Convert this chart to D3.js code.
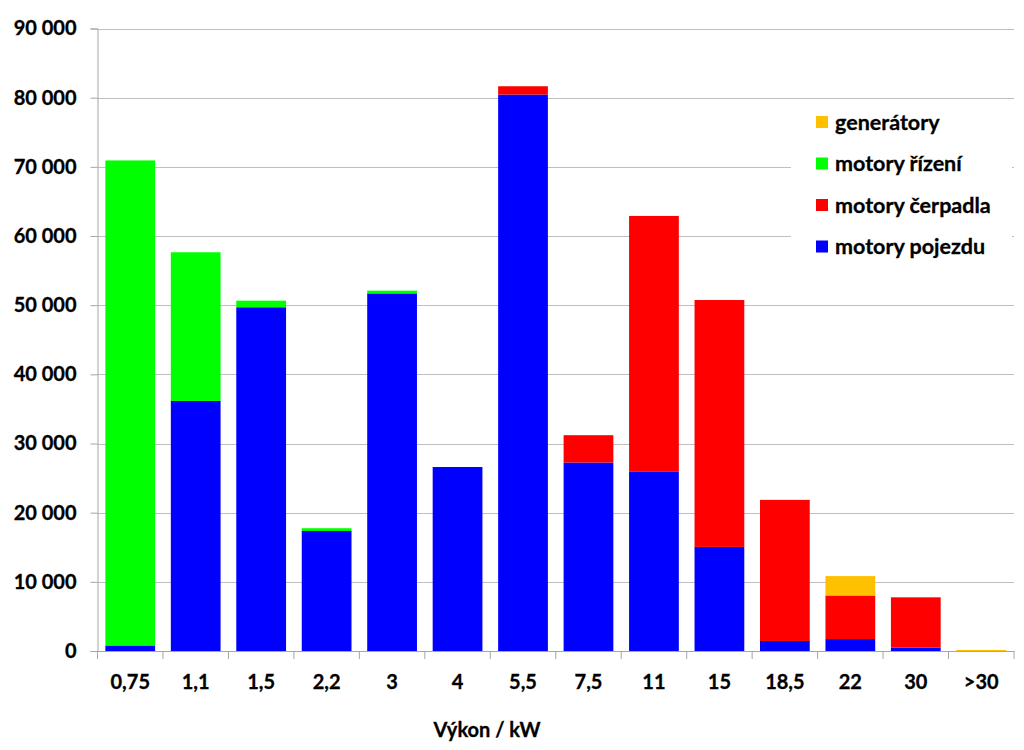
<!DOCTYPE html>
<html>
<head>
<meta charset="utf-8">
<script src="https://cdn.jsdelivr.net/npm/d3@7/dist/d3.min.js"></script>
<style>
body { margin:0; background:#fff; }
text { font-family: Lato, "Open Sans", sans-serif; font-weight:bold; fill:#000; stroke:#000; stroke-width:0.3px; }
</style>
</head>
<body>
<div id="chart"></div>
<script>
// vykon motoru, kategorie na ose x
var categories=["0,75","1,1","1,5","2,2","3","4","5,5","7,5","11","15","18,5","22","30",">30"];

// hodnoty jednotlivych serii (odhad z obrazku)
var pojezd   =[800,36150,49700,17350,51700,26600,80450,27250,25900,15050,1450,1730,480,0];
var cerpadla =[0,0,0,0,0,0,1200,3950,37000,35700,20400,6300,7280,0];
var rizeni   =[70130,21500,950,400,400,0,0,0,0,0,0,0,0,0];
var generatory=[0,0,0,0,0,0,0,0,0,0,0,2800,0,150];

var seriesNames=["motory pojezdu","motory čerpadla","motory řízení","generátory"];
var colors=["#0000ff","#ff0000","#00ff00","#ffc000"];
var yTicks=[0,10000,20000,30000,40000,50000,60000,70000,80000,90000];

function draw() {
    var width=1024, height=750;
    var left=97.5, right=1014, top=28.5, bottom=651;

    var svg=d3.select("#chart").append("svg")
        .attr("width",width)
        .attr("height",height);

    var rows=categories.map(function(c,i) {
        return {cat:c, "motory pojezdu":pojezd[i], "motory čerpadla":cerpadla[i],
                "motory řízení":rizeni[i], "generátory":generatory[i]};
        });
    var stack=d3.stack().keys(seriesNames)(rows);

    var x=d3.scaleBand().domain(categories).range([left,right]).paddingInner(0.24).paddingOuter(0.12);
    var y=d3.scaleLinear().domain([0,90000]).range([bottom,top]);

    var fmt=function(d) { return d3.format(",")(d).replace(/,/g," "); };

    // mrizka
    svg.append("g").selectAll("line")
        .data(yTicks.slice(1))
        .enter().append("line")
        .attr("x1",left).attr("x2",right)
        .attr("y1",function(d) { return Math.round(y(d))+0.5; })
        .attr("y2",function(d) { return Math.round(y(d))+0.5; })
        .attr("stroke","#bfbfbf").attr("stroke-width",1);

    // sloupce
    svg.append("g").selectAll("g")
        .data(stack)
        .enter().append("g")
        .attr("fill",function(d,i) { return colors[i]; })
        .selectAll("rect")
        .data(function(d) { return d; })
        .enter().append("rect")
        .attr("x",function(d) { return x(d.data.cat); })
        .attr("width",x.bandwidth())
        .attr("y",function(d) { return y(d[1]); })
        .attr("height",function(d) { return Math.max(0,y(d[0])-y(d[1])); });

    // osa y
    var yAxis=d3.axisLeft(y).tickValues(yTicks).tickFormat(fmt).tickSize(7).tickPadding(14);
    var gy=svg.append("g").attr("transform","translate("+left+",0)").call(yAxis);
    gy.select(".domain").attr("stroke","#a6a6a6");
    gy.selectAll(".tick line").attr("stroke","#a6a6a6");
    gy.selectAll("text").style("font-size","20px").attr("font-family",null);

    // osa x
    var xAxis=d3.axisBottom(x).tickSize(0).tickPadding(24);
    var gx=svg.append("g").attr("transform","translate(0,"+bottom+")").call(xAxis);
    gx.select(".domain").attr("stroke","#a6a6a6");
    gx.selectAll("text").style("font-size","20px").attr("font-family",null);
    var step=x.step();
    gx.append("g").selectAll("line")
        .data(d3.range(categories.length+1))
        .enter().append("line")
        .attr("x1",function(i) { return left+i*step; })
        .attr("x2",function(i) { return left+i*step; })
        .attr("y1",0).attr("y2",8)
        .attr("stroke","#a6a6a6");

    svg.append("text")
        .attr("x",487).attr("y",737)
        .attr("text-anchor","middle")
        .style("font-size","20px")
        .text("Výkon / kW");

    // legenda
    var legend=svg.append("g");
    legend.append("rect")
        .attr("x",791).attr("y",100).attr("width",221).attr("height",170)
        .attr("fill","#fff");
    var order=[3,2,1,0];
    var li=legend.selectAll("g.item")
        .data(order)
        .enter().append("g")
        .attr("class","item")
        .attr("transform",function(d,i) { return "translate(816,"+(122+i*41.5)+")"; });
    li.append("rect")
        .attr("x",0).attr("y",-6).attr("width",12).attr("height",12)
        .attr("fill",function(d) { return colors[d]; });
    li.append("text")
        .attr("x",19).attr("y",7.5)
        .style("font-size","21.5px")
        .text(function(d) { return seriesNames[d]; });
    }

document.body.onload=function() {
    draw();
    }
</script>
</body>
</html>
